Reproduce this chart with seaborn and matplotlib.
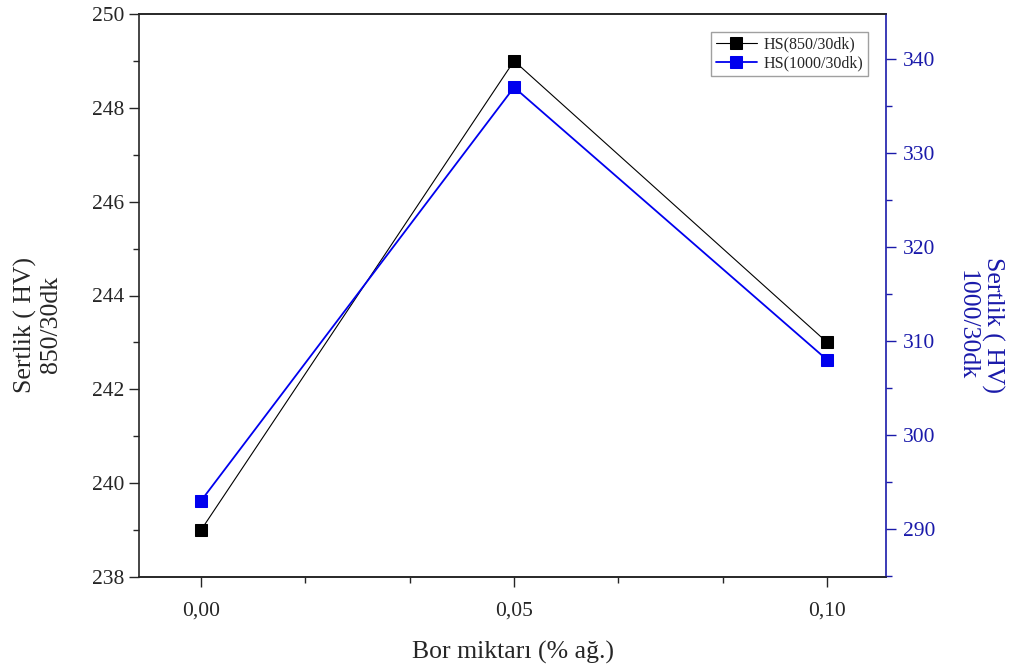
import matplotlib
matplotlib.use("Agg")
import matplotlib.pyplot as plt
from matplotlib.ticker import MultipleLocator
import seaborn as sns
import pandas as pd

bor = [0.00, 0.05, 0.10]
hs850 = [239, 249, 243]
hs1000 = [293, 337, 308]
xticks = [0.00, 0.05, 0.10]
xticklabels = ["0,00", "0,05", "0,10"]

sns.set_style("ticks")
plt.rcParams['font.family'] = ['Liberation Serif', 'DejaVu Serif']

blue = "#1a1aaa"
fig = plt.figure(figsize=(10.15, 6.69), dpi=100)
ax = fig.add_axes([139/1015, 1-577/669, (886-139)/1015, (577-14)/669])
ax2 = ax.twinx()

df = pd.DataFrame({"x": bor, "a": hs850, "b": hs1000})
sns.lineplot(data=df, x="x", y="a", ax=ax, color="black", lw=0.8, marker="s",
             markersize=8.5, markeredgecolor="black", label="HS(850/30dk)", legend=False)
sns.lineplot(data=df, x="x", y="b", ax=ax2, color="#0000ee", lw=1.3, marker="s",
             markersize=8.5, markeredgecolor="#0000ee", label="HS(1000/30dk)", legend=False)

ax.set_xlim(-0.0099, 0.1094)
ax.set_ylim(238, 250)
ax2.set_ylim(284.9, 344.8)
ax.set_xticks(xticks)
ax.set_xticklabels(xticklabels)
ax.xaxis.set_minor_locator(MultipleLocator(0.05/3))
ax.yaxis.set_major_locator(MultipleLocator(2))
ax.yaxis.set_minor_locator(MultipleLocator(1))
ax2.yaxis.set_major_locator(MultipleLocator(10))
ax2.yaxis.set_minor_locator(MultipleLocator(5))

for a in (ax, ax2):
    a.tick_params(which="major", direction="out", length=7, width=1.0, labelsize=15.5)
    a.tick_params(which="minor", direction="out", length=4, width=1.0)
    for s in a.spines.values():
        s.set_linewidth(1.2)

ax.spines['top'].set_visible(True)
ax.spines['right'].set_visible(False)
ax2.spines['left'].set_visible(False)
ax2.spines['top'].set_visible(True)
ax2.spines['right'].set_visible(True)
ax2.spines['right'].set_color(blue)
ax2.tick_params(axis='y', which='both', colors=blue, labelcolor=blue, pad=5)
ax.tick_params(axis='x', pad=11)

ax.set_xlabel("Bor miktarı (% ağ.)", fontsize=18.5, labelpad=14)
ax.set_ylabel("Sertlik ( HV)\n850/30dk", fontsize=18.5, linespacing=1.2)
ax2.set_ylabel("Sertlik ( HV)\n1000/30dk", fontsize=18.5, color=blue, rotation=270,
               linespacing=1.2)
ax.yaxis.set_label_coords(-0.103, 0.448)
ax2.yaxis.set_label_coords(1.158, 0.448)

h1, l1 = ax.get_legend_handles_labels()
h2, l2 = ax2.get_legend_handles_labels()
leg = ax2.legend(h1 + h2, l1 + l2, loc="upper right", bbox_to_anchor=(0.976, 0.968),
                 borderaxespad=0, fontsize=11.5, frameon=True, fancybox=False, edgecolor="#888888",
                 handlelength=2.6, handletextpad=0.4, borderpad=0.3, labelspacing=0.15)
leg.get_frame().set_linewidth(1.0)

fig.savefig("out.png", dpi=100)
